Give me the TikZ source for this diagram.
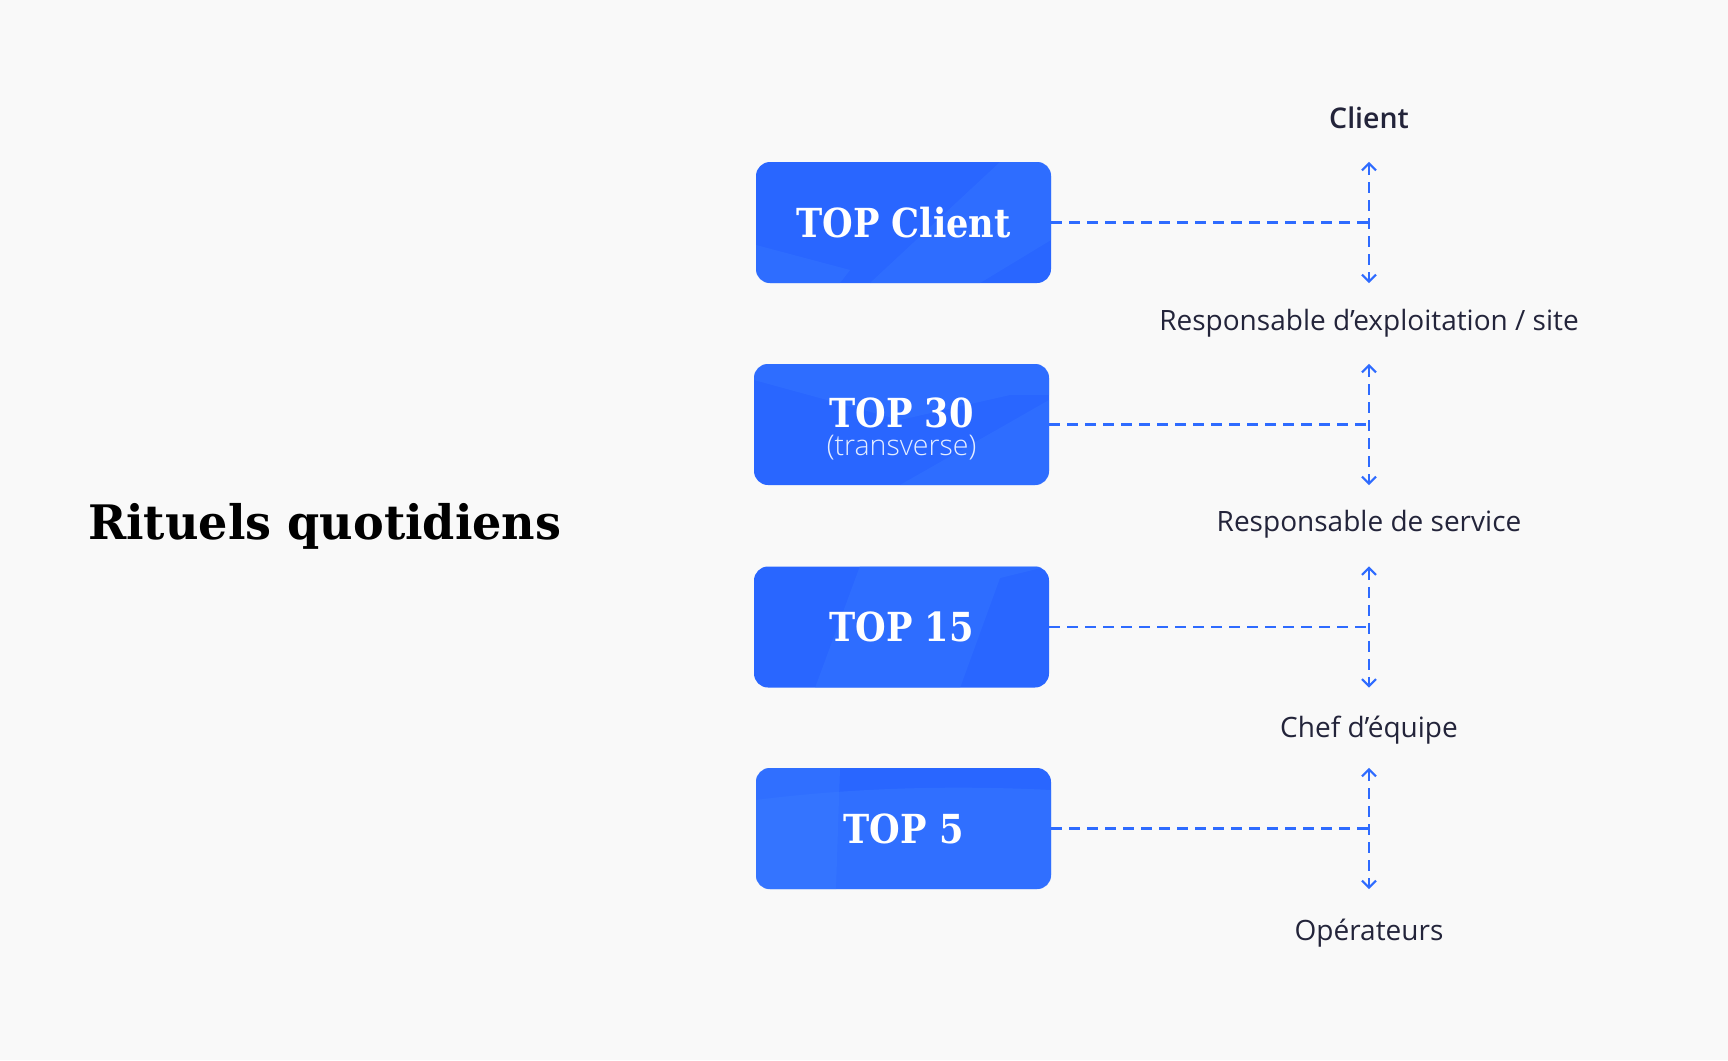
\documentclass[tikz,border=0pt]{standalone}
\usepackage{fontspec}
\setmainfont{Open Sans}
\newfontfamily\titlefont{DejaVu Serif}[BoldFont={DejaVu Serif Bold}]
\newfontfamily\labelfont{Open Sans}
\newfontfamily\labelsemibold{Open Sans Semibold}
\newfontfamily\labellight{Open Sans Light}
\usetikzlibrary{arrows.meta}
\definecolor{bgc}{HTML}{F9F9F9}
\definecolor{boxblue}{HTML}{2966FF}
\definecolor{boxlight}{HTML}{3A7BFF}
\definecolor{lineblue}{HTML}{2E6BFF}
\definecolor{inkc}{HTML}{23243A}
\definecolor{subc}{HTML}{E4EDFF}
\tikzset{
  topbox/.style={draw=none, fill=boxblue, rounded corners=14pt, minimum width=295pt, minimum height=121pt, inner sep=0pt},
  boxtext/.style={text=white, font=\titlefont\bfseries\fontsize{40}{44}\selectfont, inner sep=0pt},
  subtext/.style={text=subc, font=\labellight\fontsize{28.5}{32}\selectfont, inner sep=0pt},
  roletext/.style={text=inkc, font=\labelfont\fontsize{28}{32}\selectfont, inner sep=0pt},
  hlink/.style={lineblue, line width=2.2pt, dash pattern=on 11pt off 7pt},
  vlink/.style={lineblue, line width=2.2pt, dash pattern=on 11pt off 7pt, {Straight Barb[length=7pt,width=14pt,line width=2.2pt]}-{Straight Barb[length=7pt,width=14pt,line width=2.2pt]}}
}
\begin{document}
\begin{tikzpicture}[x=1pt,y=-1pt]
\useasboundingbox (0,0) rectangle (1728,1060);
\fill[bgc] (0,0) rectangle (1728,1060);

% title
\node[text=black, font=\titlefont\bfseries\fontsize{47.5}{52}\selectfont, inner sep=0pt, anchor=west] (title) at (88,526.5) {\scalebox{0.97}[1]{Rituels quotidiens}};

% vertical axis x
\coordinate (vx) at (1369,0);

% boxes
\node[topbox] (b1) at (903.5,222.5) {};
\node[topbox] (b2) at (901.5,424.5) {};
\node[topbox] (b3) at (901.5,627) {};
\node[topbox] (b4) at (903.5,828.5) {};

% subtle facets
\begin{scope}[opacity=0.35]
\clip[rounded corners=14pt] (b1.south west) rectangle (b1.north east);
\fill[boxlight] (1000,162) -- (1051,162) -- (1051,240) -- (980,283) -- (870,283) -- cycle;
\fill[boxlight] (756,245) -- (850,270) -- (840,283) -- (756,283) -- cycle;
\end{scope}
\begin{scope}[opacity=0.35]
\clip[rounded corners=14pt] (b2.south west) rectangle (b2.north east);
\fill[boxlight] (754,364) -- (1049,364) -- (1049,395) -- (1010,395) -- (900,420) -- (754,380) -- cycle;
\fill[boxlight] (1049,400) -- (1049,485) -- (900,485) -- cycle;
\end{scope}
\begin{scope}[opacity=0.35]
\clip[rounded corners=14pt] (b3.south west) rectangle (b3.north east);
\fill[boxlight] (860,566) -- (1049,566) -- (1000,578) -- (960,688) -- (815,688) -- cycle;
\end{scope}
\begin{scope}[opacity=0.45]
\clip[rounded corners=14pt] (b4.south west) rectangle (b4.north east);
\fill[boxlight] (756,800) .. controls (850,788) and (950,785) .. (1051,790) -- (1051,889) -- (756,889) -- cycle;
\fill[boxlight] (756,768) -- (840,768) -- (836,889) -- (756,889) -- cycle;
\end{scope}

% box texts
\node[boxtext] (t1) at (b1) {\scalebox{0.88}[1]{TOP Client}};
\node[boxtext] (t2) at ([yshift=12pt]b2.center) {\scalebox{0.88}[1]{TOP 30}};
\node[subtext] (s2) at ([yshift=-23pt]b2.center) {(transverse)};
\node[boxtext] (t3) at (b3) {\scalebox{0.88}[1]{TOP 15}};
\node[boxtext] (t4) at (b4) {\scalebox{0.88}[1]{TOP 5}};

% role labels
\node[roletext, font=\labelsemibold\fontsize{28.5}{32}\selectfont] (l0) at (1369,118) {Client};
\node[roletext] (l1) at (1369,323) {Responsable d’exploitation / site};
\node[roletext] (l2) at (1369,524) {Responsable de service};
\node[roletext] (l3) at (1369,730) {Chef d’équipe};
\node[roletext] (l4) at (1369,933) {Opérateurs};

% connectors
\foreach \b in {b1,b2,b3,b4}{
  \draw[hlink] (\b.east) -- (\b.east -| vx);
  \draw[vlink] (\b.north -| vx) -- (\b.south -| vx);
}
\end{tikzpicture}
\end{document}
